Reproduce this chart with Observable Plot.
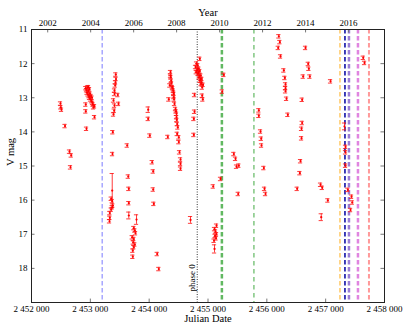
<!DOCTYPE html>
<html><head><meta charset="utf-8">
<script src="https://cdn.jsdelivr.net/npm/d3@7"></script>
<script src="https://cdn.jsdelivr.net/npm/@observablehq/plot@0.6"></script>
<style>body{margin:0;background:#fff} svg{display:block}</style>
</head><body><div id="chart"></div>
<script>
// Observations: Julian Date, V magnitude, error
const jd = [
2452493,2452498,2452510,2452570,2452646,2452675,2452663,
2452923,2452935,2452944,2452952,2452960,2452969,2452969,2452978,2452986,2452986,2452995,2453003,2453012,2453020,2453029,2453037,2453046,2453054,2453071,2452923,2452923,2453071,2452935,
2453433,2453436,2453428,2453423,2453411,2453411,2453467,2453394,2453479,2453411,2453406,2453394,2453382,2453377,2453372,2453355,2453372,2453382,2453372,2453355,2453331,2453331,2453326,
2453627,2453645,2453654,2453654,2453654,2453785,2453739,2453756,2453768,2453712,2453739,2453729,2453756,2453739,2453722,2453722,
2453984,2453984,2454011,2454052,2454069,2454069,2454079,2454137,2454164,2454334,2454317,
2454363,2454363,2454368,2454375,2454351,2454380,2454392,2454400,2454409,2454415,2454419,2454419,2454424,2454431,2454448,2454456,2454465,2454465,2454470,2454477,2454487,2454477,2454504,2454504,2454516,2454533,2454533,2454533,
2454703,
2454861,2454788,2454805,2454814,2454822,2454831,2454839,2454848,2454856,2454865,2454873,2454882,2454890,2454902,2454916,2454771,2454902,2454912,2454771,2454759,2454759,
2454800,2454826,2454844,2454860,2454878,2454895,
2455269,2455242,2455213,2455089,2455145,2455111,2455128,2455145,2455120,2455137,2455103,2455111,
2455439,2455468,2455485,2455524,2455514,
2455864,2455864,2455893,2455905,2455910,2455949,2455961,2455978,
2456204,2456221,2456194,2456233,2456289,2456306,2456318,2456318,2456318,2456335,2456357,
2456658,2456704,2456714,2456618,2456731,2456601,2456601,2456590,2456590,2456573,2456561,2456516,
2457083,2456913,2456942,2457037,2456925,
2457321,2457338,2457338,2457338,2457377,2457440,2457452,2457423,
2457639,2457661
];
const mag = [
13.17,13.28,13.35,13.83,14.58,14.69,15.04,
12.72,12.78,12.85,12.70,12.90,12.69,12.80,12.95,12.75,13.00,12.88,13.05,12.95,13.10,13.00,13.15,13.20,13.28,13.25,13.20,13.40,13.57,13.91,
12.32,12.45,12.55,12.64,12.79,12.89,12.92,13.08,13.18,13.23,13.38,13.49,14.01,14.65,15.72,15.96,16.03,16.16,16.21,16.28,16.38,16.52,16.62,
14.40,15.31,15.67,16.09,16.45,16.57,16.82,16.89,16.97,17.09,17.14,17.24,17.30,17.38,17.48,17.66,
13.35,13.62,14.11,14.89,15.16,15.69,16.11,17.58,18.02,13.05,14.15,
12.25,12.35,12.40,12.50,12.64,12.58,12.69,12.72,12.79,12.85,12.89,12.98,13.05,13.18,13.33,13.40,13.47,13.57,13.65,13.77,13.87,14.06,14.16,14.30,14.60,14.81,14.94,15.08,
16.58,
11.86,12.10,12.00,12.20,12.15,12.30,12.25,12.40,12.35,12.50,12.45,12.60,12.55,12.70,12.62,12.92,12.94,13.05,13.41,13.62,14.09,
12.25,12.05,12.15,12.22,12.35,12.45,
12.33,12.82,15.38,15.60,16.75,16.85,16.92,17.00,17.05,17.12,17.19,17.43,
14.65,14.79,15.02,14.99,15.82,
13.37,13.53,13.99,14.20,14.40,15.06,15.67,15.82,
11.20,11.37,11.54,11.79,12.20,12.42,12.61,12.72,12.81,13.03,13.50,
11.54,12.01,12.15,12.38,12.38,13.06,13.74,13.91,14.19,14.86,15.21,15.67,
12.52,15.55,15.64,16.01,16.50,
13.84,14.44,14.60,14.99,15.70,15.90,16.07,16.29,
11.83,11.98
];
// per-point errors (default 0.05 where not listed)
const errIdx = [44, 57, 58, 69, 108, 147, 188, 189];
const errVal = [0.50, 0.10, 0.14, 0.08, 0.10, 0.12, 0.10, 0.10];

const jdTicks = [2452000, 2453000, 2454000, 2455000, 2456000, 2457000, 2458000];
const magTicks = [11, 12, 13, 14, 15, 16, 17, 18];
const yearTicks = [2002, 2004, 2006, 2008, 2010, 2012, 2014, 2016];
const eventJD = [2453202, 2454817, 2455236, 2455781, 2457243, 2457328, 2457396, 2457549, 2457736];
const eventText = "phase 0";

const err = mag.map(() => 0.05);
errIdx.forEach((k, i) => { err[k] = errVal[i]; });
const pts = jd.map((x, i) => ({jd: x, mag: mag[i], err: err[i]}));

const toJD = y => Date.UTC(y, 0, 1) / 86400000 + 2440587.5;
const yearJD = yearTicks.map(toJD);
const jdFmt = d => String(d).replace(/(\d)(\d{3})(\d{3})$/, "$1 $2 $3");
const yearFmt = d => String(new Date((d - 2440587.5) * 86400000).getUTCFullYear());

const eventStyle = [
  {stroke: "#6b6bff", opacity: 0.6, width: 1.5, dash: "4.5,2.5"},
  {stroke: "#000", opacity: 0.8, width: 1, dash: "1,1.5"},
  {stroke: "#2ca02c", opacity: 0.75, width: 2.5, dash: "4.5,2.5"},
  {stroke: "#2ca02c", opacity: 0.9, width: 1, dash: "4.5,3.5"},
  {stroke: "#ffa500", opacity: 0.6, width: 1.5, dash: "4.5,2.5"},
  {stroke: "#0000a0", opacity: 1, width: 1.5, dash: "4.5,2.5"},
  {stroke: "#8866cc", opacity: 0.85, width: 2.5, dash: "4.5,2.5"},
  {stroke: "#cc33cc", opacity: 0.6, width: 2.5, dash: "4.5,2.5"},
  {stroke: "#ff5555", opacity: 0.6, width: 2, dash: "4.5,2.5"}
];

const X0 = jdTicks[0], X1 = jdTicks[jdTicks.length - 1], Y0 = 11, Y1 = 19;
const tickCol = "#777";

const marks = [];
eventJD.forEach((x, i) => {
  const s = eventStyle[i];
  marks.push(Plot.ruleX([x], {x: d => d, stroke: s.stroke, strokeOpacity: s.opacity, strokeWidth: s.width, strokeDasharray: s.dash}));
});
marks.push(
  Plot.text([eventText], {x: () => eventJD[1], y: () => 18.68, rotate: -90, textAnchor: "start", dx: -5, fontSize: 9, fill: "#000"}),
  Plot.ruleX(pts, {x: "jd", y1: d => d.mag - d.err, y2: d => d.mag + d.err, stroke: "#ff1a1a", strokeOpacity: 0.85, strokeWidth: 1}),
  Plot.ruleY(pts, {y: d => d.mag - d.err, x1: d => d.jd - 36, x2: d => d.jd + 36, stroke: "#ff1a1a", strokeOpacity: 0.85, strokeWidth: 1}),
  Plot.ruleY(pts, {y: d => d.mag + d.err, x1: d => d.jd - 36, x2: d => d.jd + 36, stroke: "#ff1a1a", strokeOpacity: 0.85, strokeWidth: 1}),
  Plot.dot(pts, {x: "jd", y: "mag", r: 1.1, fill: "#ff0000", stroke: "none"}),
  // inward ticks
  Plot.ruleX(jdTicks, {x: d => d, y1: Y1, y2: Y1 - 0.1, stroke: tickCol}),
  Plot.ruleX(yearJD, {x: d => d, y1: Y0, y2: Y0 + 0.1, stroke: tickCol}),
  Plot.ruleY(magTicks, {y: d => d, x1: X0, x2: X0 + 60, stroke: tickCol}),
  Plot.ruleY(magTicks, {y: d => d, x1: X1 - 60, x2: X1, stroke: tickCol}),
  Plot.frame({stroke: "#222", strokeWidth: 1}),
  Plot.axisX(jdTicks, {anchor: "bottom", tickSize: 0, tickPadding: 3, tickFormat: jdFmt, fontSize: 9, label: null}),
  Plot.axisX(yearJD, {anchor: "top", tickSize: 0, tickPadding: 4, tickFormat: yearFmt, fontSize: 9, label: null}),
  Plot.axisY(magTicks, {anchor: "left", tickSize: 0, tickPadding: 4, fontSize: 9, label: null}),
  Plot.text(["Julian Date"], {frameAnchor: "bottom", dy: 19, fontSize: 10.5, fill: "#000"}),
  Plot.text(["Year"], {frameAnchor: "top", dy: -21, fontSize: 10.5, fill: "#000"}),
  Plot.text(["V mag"], {frameAnchor: "left", dx: -21, rotate: -90, fontSize: 10.5, fill: "#000"})
);

const chart = Plot.plot({
  width: 407, height: 331,
  marginLeft: 31, marginRight: 23, marginTop: 29, marginBottom: 29,
  style: {fontFamily: "'Liberation Serif', 'DejaVu Serif', serif", fontSize: "9px", color: "#000", background: "#fff"},
  x: {domain: [X0, X1]},
  y: {domain: [Y0, Y1], reverse: true},
  marks
});
document.getElementById("chart").append(chart);
</script>
</body></html>
